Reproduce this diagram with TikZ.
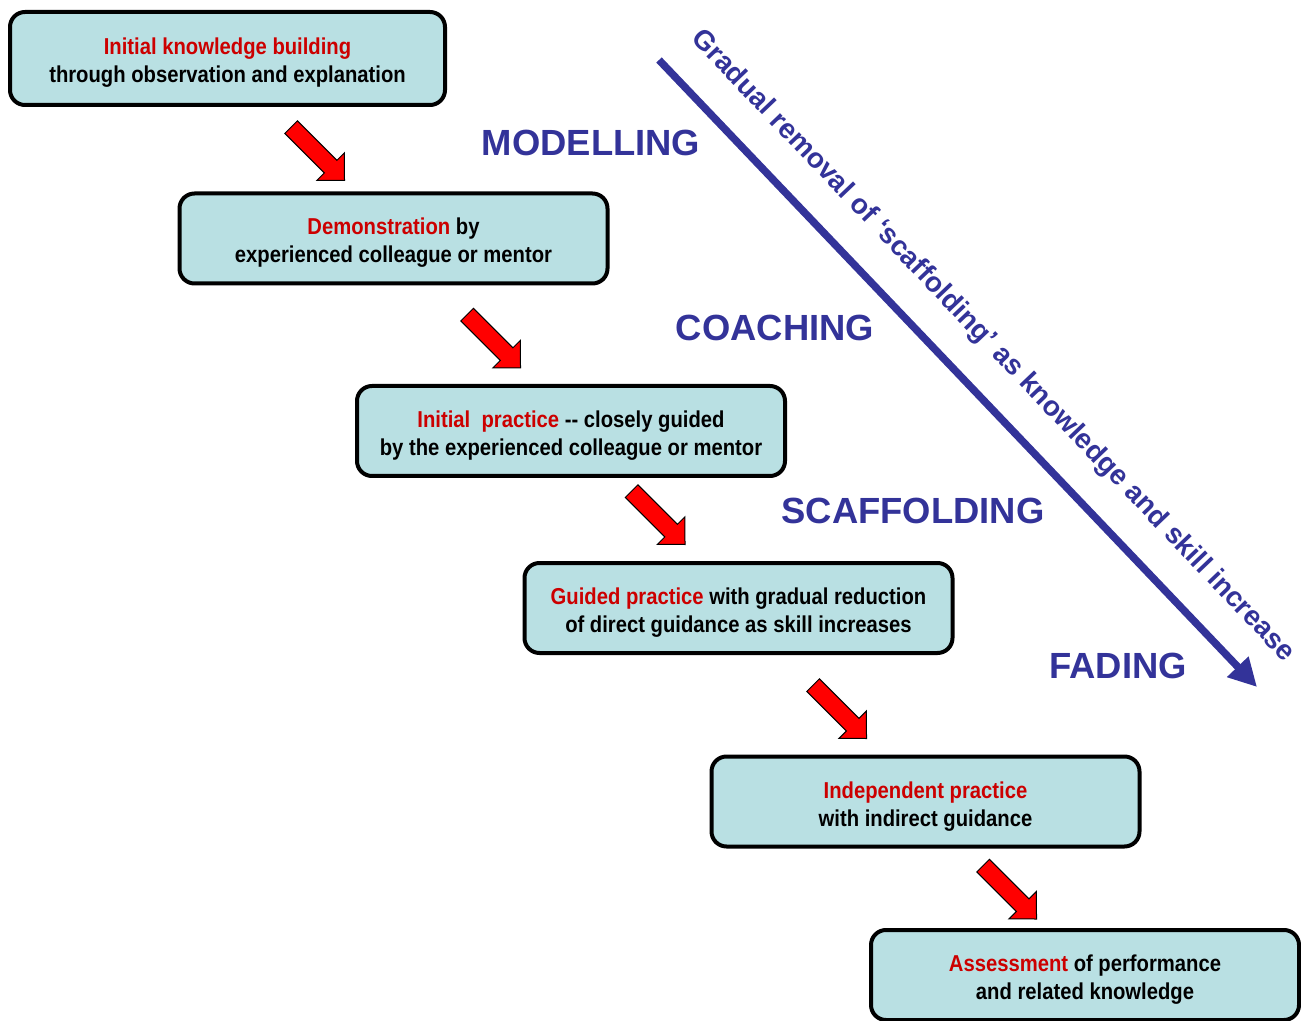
\documentclass[tikz,border=0pt]{standalone}
\usepackage{fontspec}
\setmainfont{Liberation Sans}
\newfontfamily\boxfont{Liberation Sans}[FakeStretch=0.88]
\usetikzlibrary{arrows.meta}
\definecolor{boxfill}{RGB}{185,224,227}
\definecolor{txtred}{RGB}{204,0,0}
\definecolor{scafblue}{RGB}{51,51,153}
\newcommand{\red}[1]{\textcolor{txtred}{#1}}

\begin{document}
\begin{tikzpicture}[x=0.5pt, y=-0.5pt,
    box/.style={draw, line width=2pt, fill=boxfill, rounded corners=7.5pt, minimum width=214pt, minimum height=45pt,
        inner sep=0pt, align=center, text height=24.5pt, text depth=0pt, font=\boxfont\bfseries\fontsize{11.5}{14}\selectfont},
    blockarrow/.pic={\draw[fill=red, line width=0.5pt, rotate=-45]
        (-37.75pt,4.45pt) -- (-9.8pt,4.45pt) -- (-9.8pt,9.75pt) -- (0pt,0pt)
        -- (-9.8pt,-9.75pt) -- (-9.8pt,-4.45pt) -- (-37.75pt,-4.45pt) -- cycle;},
    phase/.style={text=scafblue, font=\bfseries\fontsize{18.2}{20}\selectfont, inner sep=0pt}]
    \useasboundingbox (0,0) rectangle (1301,1021);

    % Steps
    \node[box, minimum width=217.5pt, minimum height=46.5pt] (box-1) at (227.5,58.5) {\red{Initial knowledge building}\\through observation and explanation};
    \node[box] (box-2) at (393.5,238.5) {\red{Demonstration} by\\experienced colleague or mentor};
    \node[box] (box-3) at (571,431) {\red{Initial\ \ practice} -{}- closely guided\\by the experienced colleague or mentor};
    \node[box] (box-4) at (738.5,608) {\red{Guided practice} with gradual reduction\\of direct guidance as skill increases};
    \node[box] (box-5) at (925.5,801.5) {\red{Independent practice}\\with indirect guidance};
    \node[box] (box-6) at (1085,975) {\red{Assessment} of performance\\and related knowledge};

    % Arrows between the steps (placed at their tips)
    \pic (arr-1) at (344.5,180.5) {blockarrow};
    \pic (arr-2) at (520.5,368) {blockarrow};
    \pic (arr-3) at (685,544.5) {blockarrow};
    \pic (arr-4) at (866.5,738.5) {blockarrow};
    \pic (arr-5) at (1036.5,919) {blockarrow};

    % Phases
    \node[phase] (ph-modelling) at (591,143) {MODELLING};
    \node[phase] (ph-coaching) at (775,328) {COACHING};
    \node[phase] (ph-scaffolding) at (913,511) {SCAFFOLDING};
    \node[phase] (ph-fading) at (1118,666) {FADING};

    % Scaffolding removal
    \coordinate (grad-start) at (659,60);
    \coordinate (grad-end) at (1257,687);
    \draw[scafblue, line width=3.75pt, -{Triangle[length=14pt, width=14pt]}] (grad-start) -- (grad-end)
        node[pos=0.505, sloped, above=13.5pt, inner sep=0pt, text=scafblue, font=\bfseries\fontsize{14}{16}\selectfont] (grad-label)
        {Gradual removal of ‘scaffolding’ as knowledge and skill increase};

\end{tikzpicture}
\end{document}
